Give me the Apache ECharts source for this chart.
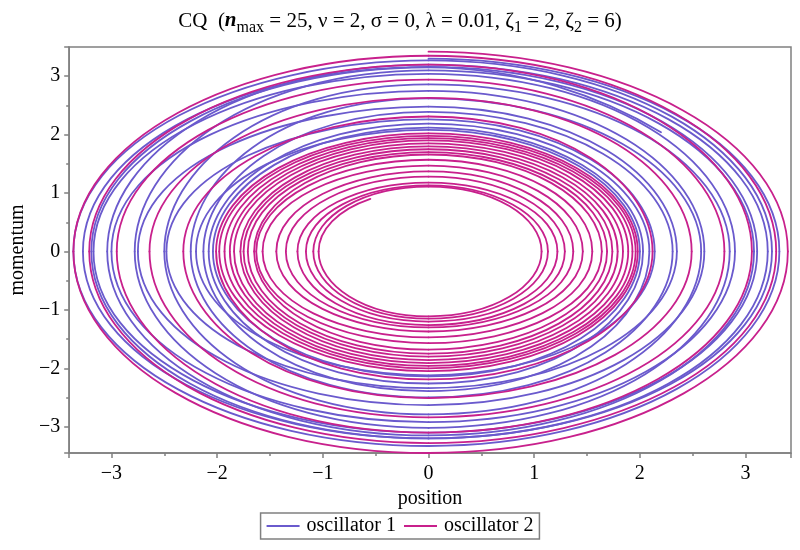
<!DOCTYPE html>
<html><head><meta charset="utf-8">
<script src="https://cdn.jsdelivr.net/npm/echarts@6/dist/echarts.min.js"></script>
<style>html,body{margin:0;padding:0;background:#fff}#c{width:800px;height:550px}</style>
</head><body><div id="c"></div>
<script>
// Quarter-turn crossings (clockwise: top, right, bottom, left per turn)
const osc1Top    = [3.30, 3.27, 3.16, 3.04, 2.75, 2.48, 2.26, 2.08, 2.12, 2.19, 2.39, 2.62, 2.86, 3.10, 3.20, 3.15];
const osc1Right  = [3.32, 3.25, 3.11, 2.90, 2.61, 2.35, 2.14, 2.00, 2.03, 2.09, 2.31, 2.58, 2.85, 3.08, 3.21];
const osc1Bottom = [-3.33, -3.20, -3.10, -2.92, -2.63, -2.34, -2.12, -2.14, -2.26, -2.39, -2.50, -2.79, -3.02, -3.15, -3.20];
const osc1Left   = [-3.36, -3.27, -3.17, -3.00, -2.75, -2.48, -2.20, -2.04, -2.08, -2.13, -2.25, -2.50, -2.78, -3.04, -3.19];
const osc1End    = [2.20, 2.04];

const osc2Top    = [3.42, 3.35, 3.20, 2.94, 2.63, 2.31, 2.02, 1.98, 1.94, 1.90, 1.85, 1.80, 1.75, 1.70, 1.66, 1.57, 1.47, 1.37, 1.28, 1.18, 1.13, 1.11];
const osc2Right  = [3.40, 3.29, 3.06, 2.80, 2.49, 2.12, 1.98, 1.96, 1.93, 1.89, 1.84, 1.79, 1.74, 1.69, 1.64, 1.55, 1.46, 1.37, 1.29, 1.22, 1.13, 1.07];
const osc2Bottom = [-3.45, -3.28, -3.10, -2.84, -2.51, -2.19, -2.05, -2.00, -1.96, -1.91, -1.86, -1.80, -1.75, -1.68, -1.57, -1.47, -1.37, -1.30, -1.26, -1.20, -1.15, -1.11];
const osc2Left   = [-3.36, -3.21, -2.95, -2.64, -2.32, -2.01, -1.98, -1.93, -1.88, -1.84, -1.78, -1.75, -1.71, -1.65, -1.63, -1.57, -1.44, -1.35, -1.24, -1.16, -1.09, -1.04];
const osc2End    = [-0.55, 0.90];

const seriesNames = ['oscillator 1', 'oscillator 2'];
const seriesColors = ['#6A5ACD', '#C8208C'];

function buildPath(top, right, bottom, left, end) {
  const pts = [];
  for (let i = 0; i < top.length; i++) {
    if (top[i] !== undefined) pts.push([0, top[i]]);
    if (right[i] !== undefined) pts.push([right[i], 0]);
    if (bottom[i] !== undefined) pts.push([0, bottom[i]]);
    if (left[i] !== undefined) pts.push([left[i], 0]);
  }
  pts.push(end);
  return pts;
}
function toSegments(pts) {
  const s = [];
  for (let i = 0; i < pts.length - 1; i++) s.push([pts[i][0], pts[i][1], pts[i + 1][0], pts[i + 1][1]]);
  return s;
}

const seg1 = toSegments(buildPath(osc1Top, osc1Right, osc1Bottom, osc1Left, osc1End));
const seg2 = toSegments(buildPath(osc2Top, osc2Right, osc2Bottom, osc2Left, osc2End));

// each data item is one arc between consecutive crossings, drawn as a cubic Bezier
function arcRenderer(color) {
  return function (params, api) {
    const x0 = api.value(0), y0 = api.value(1), x1 = api.value(2), y1 = api.value(3);
    const P0 = api.coord([x0, y0]), P1 = api.coord([x1, y1]);
    const sz = api.size([1, 1]);
    const r0 = Math.hypot(x0, y0), r1 = Math.hypot(x1, y1);
    let c = (x0 * x1 + y0 * y1) / (r0 * r1);
    c = Math.max(-1, Math.min(1, c));
    const th = Math.acos(c);
    const k = 4 / 3 * Math.tan(th / 4);
    return {
      type: 'bezierCurve',
      silent: true,
      shape: {
        x1: P0[0], y1: P0[1], x2: P1[0], y2: P1[1],
        cpx1: P0[0] + k * sz[0] * y0, cpy1: P0[1] + k * sz[1] * x0,
        cpx2: P1[0] - k * sz[0] * y1, cpy2: P1[1] - k * sz[1] * x1
      },
      style: {stroke: color, lineWidth: 1.8, fill: 'none', lineCap: 'round'}
    };
  };
}

const FONT = '"Liberation Serif", "Times New Roman", serif';
const AX = '#808080';

function fmt(v) {
  if (Math.abs(v - Math.round(v)) > 1e-6) return '';
  const r = Math.round(v);
  return r < 0 ? '\u2212' + Math.abs(r) : String(r);
}

const chart = echarts.init(document.getElementById('c'), null, {renderer: 'canvas'});
chart.setOption({
  animation: false,
  backgroundColor: '#fff',
  title: {
    text: 'CQ  ({i|n}{sub|max} = 25, \u03BD = 2, \u03C3 = 0, \u03BB = 0.01, \u03B6{sub|1} = 2, \u03B6{sub|2} = 6)',
    left: 'center', top: 6, padding: 0,
    textStyle: {
      fontFamily: FONT, fontSize: 21, fontWeight: 'normal', color: '#000', lineHeight: 30,
      rich: {
        i: {fontFamily: FONT, fontSize: 21, fontStyle: 'italic', fontWeight: 'bold', color: '#000', lineHeight: 30},
        sub: {fontFamily: FONT, fontSize: 16, color: '#000', lineHeight: 15, verticalAlign: 'bottom'}
      }
    }
  },
  grid: {left: 68, top: 47, width: 723, height: 406, show: true, borderColor: AX, borderWidth: 1.5, containLabel: false},
  legend: {
    data: seriesNames.map((n, i) => ({name: n, icon: 'rect', itemStyle: {color: seriesColors[i]}})),
    left: 'center', top: 513,
    padding: [3, 6, 3, 6], itemGap: 8, itemWidth: 33, itemHeight: 2,
    borderColor: AX, borderWidth: 1.5,
    textStyle: {fontFamily: FONT, fontSize: 20, color: '#000', padding: [0, 0, 0, 2]}
  },
  xAxis: {
    type: 'value', min: -3.40, max: 3.43, splitNumber: 7,
    name: 'position', nameLocation: 'middle', nameGap: 35,
    nameTextStyle: {fontFamily: FONT, fontSize: 20, color: '#000'},
    axisLine: {show: true, onZero: false, lineStyle: {color: AX, width: 1.5}},
    axisTick: {show: true, length: 5, lineStyle: {color: AX, width: 1.5}},
    minorTick: {show: true, splitNumber: 2, length: 3, lineStyle: {color: AX, width: 1.5}},
    splitLine: {show: false},
    axisLabel: {fontFamily: FONT, fontSize: 20, color: '#000', margin: 11, formatter: fmt}
  },
  yAxis: {
    type: 'value', min: -3.45, max: 3.50, splitNumber: 7,
    name: 'momentum', nameLocation: 'middle', nameGap: 36,
    nameTextStyle: {fontFamily: FONT, fontSize: 20, color: '#000'},
    axisLine: {show: true, onZero: false, lineStyle: {color: AX, width: 1.5}},
    axisTick: {show: true, length: 5, lineStyle: {color: AX, width: 1.5}},
    minorTick: {show: true, splitNumber: 2, length: 3, lineStyle: {color: AX, width: 1.5}},
    splitLine: {show: false},
    axisLabel: {fontFamily: FONT, fontSize: 20, color: '#000', margin: 9, formatter: fmt}
  },
  series: [
    {name: seriesNames[0], type: 'custom', coordinateSystem: 'cartesian2d', data: seg1,
     encode: {x: [0, 2], y: [1, 3]}, renderItem: arcRenderer(seriesColors[0]),
     itemStyle: {color: seriesColors[0]}},
    {name: seriesNames[1], type: 'custom', coordinateSystem: 'cartesian2d', data: seg2,
     encode: {x: [0, 2], y: [1, 3]}, renderItem: arcRenderer(seriesColors[1]),
     itemStyle: {color: seriesColors[1]}}
  ]
});
</script>
</body></html>
